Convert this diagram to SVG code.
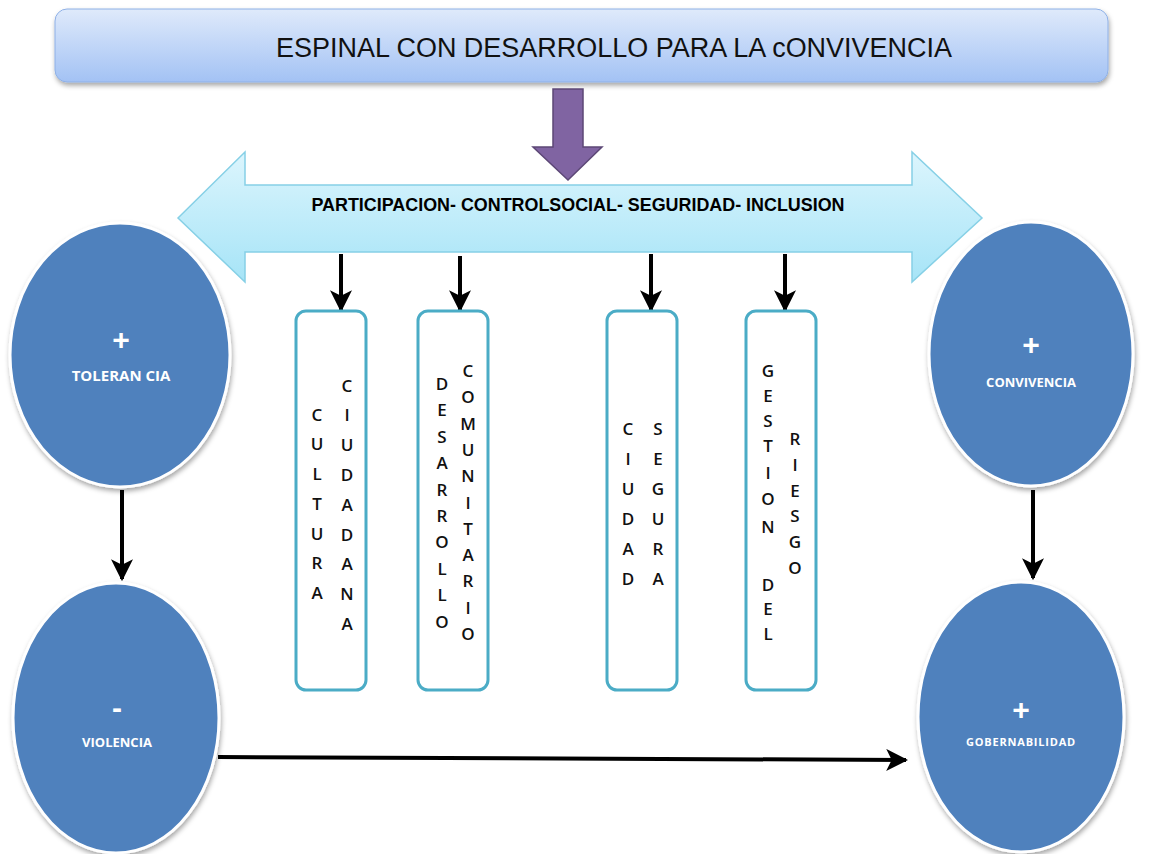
<svg xmlns="http://www.w3.org/2000/svg" width="1164" height="854" viewBox="0 0 1164 854">
<defs>
<linearGradient id="gTitle" x1="0" y1="0" x2="0" y2="1">
<stop offset="0" stop-color="#dfeafb"/>
<stop offset="1" stop-color="#a3c2f4"/>
</linearGradient>
<linearGradient id="gBanner" x1="0" y1="0" x2="0" y2="1">
<stop offset="0" stop-color="#dcf5fd"/>
<stop offset="1" stop-color="#a6e4f7"/>
</linearGradient>
<filter id="sh" x="-10%" y="-10%" width="125%" height="130%">
<feDropShadow dx="1" dy="3" stdDeviation="2.5" flood-color="#000" flood-opacity="0.35"/>
</filter>
<marker id="ah" viewBox="0 0 10 10" refX="9" refY="5" markerWidth="5.5" markerHeight="5.5" orient="auto" markerUnits="strokeWidth">
<path d="M0,0 L10,5 L0,10 L2.5,5 z" fill="#000"/>
</marker>
<style>
.ell{fill:#4f81bd;stroke:#fff;stroke-width:3;filter:url(#sh)}
.et{font-family:"Open Sans","Liberation Sans",sans-serif;font-weight:700;fill:#fff;text-anchor:middle}
.pl{font-family:"Liberation Sans",sans-serif;font-weight:700;fill:#fff;text-anchor:middle;font-size:30px}
.box{fill:#fff;stroke:#4bacc6;stroke-width:3}
.lt{font-family:"Open Sans","Liberation Sans",sans-serif;font-size:17px;font-weight:600;fill:#111;text-anchor:middle;dominant-baseline:central}
.con{stroke:#000;stroke-width:4;fill:none;marker-end:url(#ah)}
</style>
</defs>
<rect width="1164" height="854" fill="#fff"/>

<g id="title">
<rect x="55" y="9" width="1053" height="73" rx="12" fill="url(#gTitle)" stroke="#8eb0e6" stroke-width="1" filter="url(#sh)"/>
<text x="614" y="57" font-family="'Liberation Sans Narrow','Liberation Sans',sans-serif" font-size="27" fill="#111" text-anchor="middle" textLength="676" lengthAdjust="spacingAndGlyphs">ESPINAL CON DESARROLLO PARA LA cONVIVENCIA</text>
</g>

<g id="purple-arrow">
<path d="M553,89 L583,89 L583,147 L602,147 L568,180 L533,147 L553,147 Z" fill="#8064a2" stroke="#5c4776" stroke-width="1.5"/>
</g>

<g id="banner">
<path d="M178,218 L245,152 L245,185 L912,185 L912,152 L982,218 L912,282 L912,252 L245,252 L245,282 Z" fill="url(#gBanner)" stroke="#86d0e6" stroke-width="1.5"/>
<text x="578" y="211" font-family="'Liberation Sans Narrow','Liberation Sans',sans-serif" font-size="18" font-weight="700" fill="#000" text-anchor="middle" textLength="533" lengthAdjust="spacingAndGlyphs">PARTICIPACION- CONTROLSOCIAL- SEGURIDAD- INCLUSION</text>
</g>

<g id="connectors">
<line class="con" x1="341" y1="254" x2="341" y2="310"/>
<line class="con" x1="460" y1="256" x2="460" y2="310"/>
<line class="con" x1="651" y1="254" x2="651" y2="310"/>
<line class="con" x1="785" y1="254" x2="785" y2="310"/>
<line class="con" x1="122" y1="490" x2="122" y2="579"/>
<line class="con" x1="1033" y1="490" x2="1033" y2="578"/>
<line class="con" x1="218" y1="757" x2="906" y2="760"/>
</g>

<g id="cultura-ciudadana">
<rect class="box" x="296" y="311" width="70" height="379" rx="10"/>
<text class="lt" x="317" y="414">C</text><text class="lt" x="317" y="443">U</text><text class="lt" x="317" y="473">L</text><text class="lt" x="317" y="503">T</text><text class="lt" x="317" y="533">U</text><text class="lt" x="317" y="562">R</text><text class="lt" x="317" y="592">A</text>
<text class="lt" x="347" y="385">C</text><text class="lt" x="347" y="414">I</text><text class="lt" x="347" y="444">U</text><text class="lt" x="347" y="474">D</text><text class="lt" x="347" y="504">A</text><text class="lt" x="347" y="534">D</text><text class="lt" x="347" y="563">A</text><text class="lt" x="347" y="593">N</text><text class="lt" x="347" y="623">A</text>
</g>

<g id="desarrollo-comunitario">
<rect class="box" x="418" y="311" width="70" height="379" rx="10"/>
<text class="lt" x="442" y="383">D</text><text class="lt" x="442" y="409">E</text><text class="lt" x="442" y="436">S</text><text class="lt" x="442" y="462">A</text><text class="lt" x="442" y="489">R</text><text class="lt" x="442" y="515">R</text><text class="lt" x="442" y="541">O</text><text class="lt" x="442" y="568">L</text><text class="lt" x="442" y="594">L</text><text class="lt" x="442" y="621">O</text>
<text class="lt" x="468" y="370">C</text><text class="lt" x="468" y="396">O</text><text class="lt" x="468" y="423">M</text><text class="lt" x="468" y="449">U</text><text class="lt" x="468" y="475">N</text><text class="lt" x="468" y="502">I</text><text class="lt" x="468" y="528">T</text><text class="lt" x="468" y="554">A</text><text class="lt" x="468" y="580">R</text><text class="lt" x="468" y="607">I</text><text class="lt" x="468" y="633">O</text>
</g>

<g id="ciudad-segura">
<rect class="box" x="607" y="311" width="70" height="379" rx="10"/>
<text class="lt" x="628" y="428">C</text><text class="lt" x="628" y="458">I</text><text class="lt" x="628" y="488">U</text><text class="lt" x="628" y="518">D</text><text class="lt" x="628" y="548">A</text><text class="lt" x="628" y="578">D</text>
<text class="lt" x="658" y="428">S</text><text class="lt" x="658" y="458">E</text><text class="lt" x="658" y="488">G</text><text class="lt" x="658" y="518">U</text><text class="lt" x="658" y="548">R</text><text class="lt" x="658" y="578">A</text>
</g>

<g id="gestion-del-riesgo">
<rect class="box" x="746" y="311" width="70" height="379" rx="10"/>
<text class="lt" x="768" y="370">G</text><text class="lt" x="768" y="395">E</text><text class="lt" x="768" y="420">S</text><text class="lt" x="768" y="445">T</text><text class="lt" x="768" y="472">I</text><text class="lt" x="768" y="498">O</text><text class="lt" x="768" y="526">N</text><text class="lt" x="768" y="584">D</text><text class="lt" x="768" y="608">E</text><text class="lt" x="768" y="633">L</text>
<text class="lt" x="795" y="438">R</text><text class="lt" x="795" y="464">I</text><text class="lt" x="795" y="490">E</text><text class="lt" x="795" y="515">S</text><text class="lt" x="795" y="541">G</text><text class="lt" x="795" y="567">O</text>
</g>

<g id="tolerancia">
<ellipse class="ell" cx="120" cy="355" rx="110" ry="132"/>
<text class="pl" x="121" y="350">+</text>
<text class="et" x="121" y="381" font-size="15">TOLERAN CIA</text>
</g>

<g id="convivencia">
<ellipse class="ell" cx="1031" cy="354" rx="102" ry="132"/>
<text class="pl" x="1031" y="355">+</text>
<text class="et" x="1031" y="387" font-size="13">CONVIVENCIA</text>
</g>

<g id="violencia">
<ellipse class="ell" cx="116" cy="718" rx="103" ry="135"/>
<text class="pl" x="117" y="718">-</text>
<text class="et" x="117" y="747" font-size="13">VIOLENCIA</text>
</g>

<g id="gobernabilidad">
<ellipse class="ell" cx="1021" cy="717" rx="103" ry="135"/>
<text class="pl" x="1021" y="720">+</text>
<text class="et" x="1021" y="746" font-size="11" letter-spacing="0.8">GOBERNABILIDAD</text>
</g>
</svg>
